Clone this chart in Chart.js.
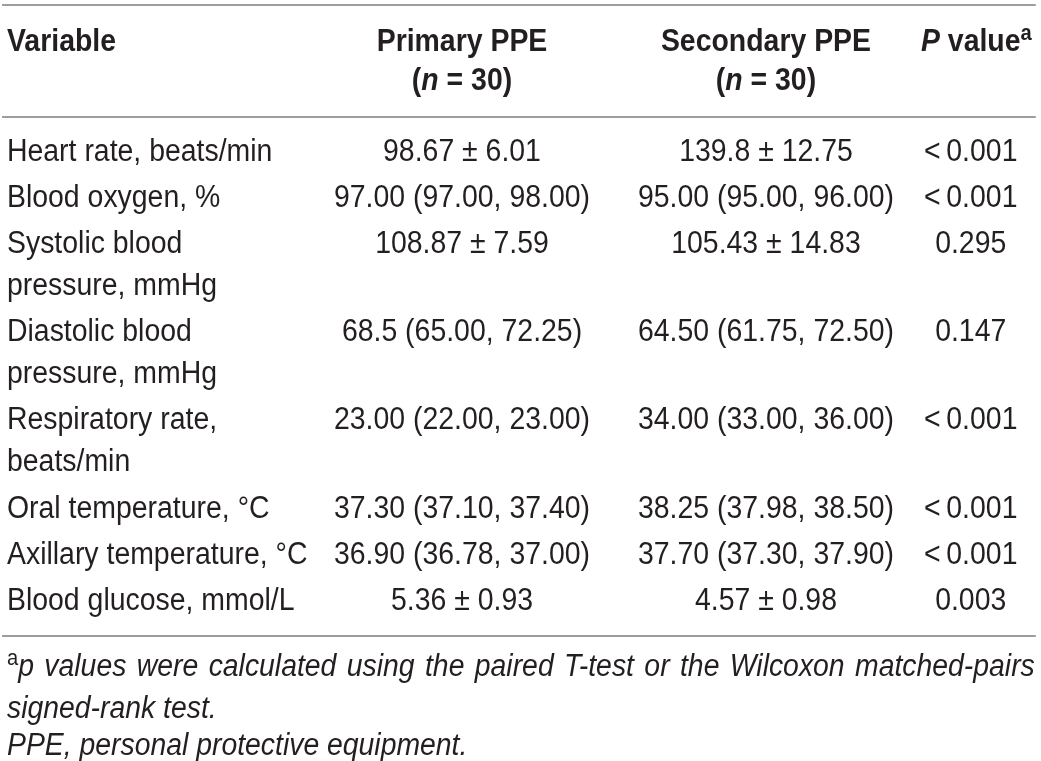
<!DOCTYPE html>
<html>
<head>
<meta charset="utf-8">
<script src="https://cdn.jsdelivr.net/npm/chart.js@4.4.1/dist/chart.umd.min.js"></script>
<style>
  html, body { margin: 0; padding: 0; background: #fff; }
  #wrap { width: 1041px; height: 761px; position: relative; }
</style>
</head>
<body>
<div id="wrap"><canvas id="tableChart"></canvas></div>
<script>
// table content (*..* = italic toggle, ^..^ = superscript)
const columnHeaders = ['Variable', 'Primary PPE\n(*n* = 30)', 'Secondary PPE\n(*n* = 30)', '*P* value^a^']
const variables = [
    'Heart rate, beats/min',
    'Blood oxygen, %',
    'Systolic blood\npressure, mmHg',
    'Diastolic blood\npressure, mmHg',
    'Respiratory rate,\nbeats/min',
    'Oral temperature, °C',
    'Axillary temperature, °C',
    'Blood glucose, mmol/L'
]
const primaryPPE = ['98.67 ± 6.01', '97.00 (97.00, 98.00)', '108.87 ± 7.59', '68.5 (65.00, 72.25)',
    '23.00 (22.00, 23.00)', '37.30 (37.10, 37.40)', '36.90 (36.78, 37.00)', '5.36 ± 0.93']
const secondaryPPE = ['139.8 ± 12.75', '95.00 (95.00, 96.00)', '105.43 ± 14.83', '64.50 (61.75, 72.50)',
    '34.00 (33.00, 36.00)', '38.25 (37.98, 38.50)', '37.70 (37.30, 37.90)', '4.57 ± 0.98']
const pValues = ['<\u20090.001', '<\u20090.001', '0.295', '0.147', '<\u20090.001', '<\u20090.001', '<\u20090.001', '0.003']
const footnotes = [
    '*^a^*p values were calculated using the paired T-test or the Wilcoxon matched-pairs',
    'signed-rank test.',
    'PPE, personal protective equipment.'
]

// layout (in line units on the y scale, fractions of width on the x scale)
const BODY_TOP_PX = 152
const LINE_PX = 42
const ROW_GAP = 0.1
const COL_X = [0.0067, 0.4438, 0.7358, 0.9325]
const COL_ALIGN = ['left', 'center', 'center', 'center']
const HEADER_Y = [-2.6, -1.69]
const RULE_Y = [-3.5, -0.83, 11.52]
const FOOT_Y = [12.28, 13.26, 14.16]
const FONT = '"Liberation Sans", Arial, sans-serif'
const SIZE = 31
const SX = 0.917
const INK = '#231f20'

const columns = [variables, primaryPPE, secondaryPPE, pValues]
const rowPos = []
let acc = 0
variables.forEach((v, r) => {
    rowPos.push(acc + r * ROW_GAP)
    acc += v.split('\n').length
})

function parse(str) {
    const segs = []
    let cur = '', it = false, sup = false
    for (const ch of str) {
        if (ch === '*' || ch === '^') {
            if (cur) segs.push({ t: cur, it, sup })
            cur = ''
            if (ch === '*') it = !it
            else sup = !sup
        } else cur += ch
    }
    if (cur) segs.push({ t: cur, it, sup })
    return segs
}

function fontFor(seg, o) {
    const size = seg.sup ? Math.round(o.size * 0.7) : o.size
    const italic = (seg.it !== !!o.italic) ? 'italic ' : ''
    return italic + (o.weight || 'normal') + ' ' + size + 'px ' + FONT
}

function drawRich(ctx, str, x, y, align, o) {
    const segs = parse(str)
    let total = 0, spaces = 0
    segs.forEach(s => {
        ctx.font = fontFor(s, o)
        s.w = ctx.measureText(s.t).width * o.sx
        if (!s.sup || align === 'left') total += s.w
        spaces += (s.t.match(/ /g) || []).length
    })
    const extra = o.justify && spaces ? Math.max(0, (o.justify - total) / spaces) : 0
    let cx = align === 'center' ? x - total / 2 : x
    ctx.fillStyle = o.color
    ctx.textBaseline = 'middle'
    ctx.textAlign = 'left'
    segs.forEach(s => {
        ctx.font = fontFor(s, o)
        const dy = s.sup ? -o.size * 0.3 : 0
        s.t.split(' ').forEach((w, i) => {
            if (i > 0) cx += ctx.measureText(' ').width * o.sx + extra
            ctx.save()
            ctx.translate(cx, y + dy)
            ctx.scale(o.sx, 1)
            ctx.fillText(w, 0, 0)
            ctx.restore()
            cx += ctx.measureText(w).width * o.sx
        })
    })
}

const tablePlugin = {
    id: 'tableCells',
    afterDatasetsDraw(chart) {
        const ctx = chart.ctx
        const xs = chart.scales.x, ys = chart.scales.y
        const body = { size: SIZE, sx: SX, color: INK }

        // rules
        ctx.save()
        ctx.strokeStyle = '#9d9d9d'
        ctx.lineWidth = 2
        RULE_Y.forEach(v => {
            const py = Math.round(ys.getPixelForValue(v))
            ctx.beginPath()
            ctx.moveTo(xs.getPixelForValue(0.002), py)
            ctx.lineTo(xs.getPixelForValue(0.995), py)
            ctx.stroke()
        })

        // header
        columnHeaders.forEach((h, c) => {
            h.split('\n').forEach((line, j) => {
                drawRich(ctx, line, xs.getPixelForValue(COL_X[c]), ys.getPixelForValue(HEADER_Y[j]),
                    COL_ALIGN[c], Object.assign({ weight: 'bold' }, body))
            })
        })

        // body cells, one point per cell
        chart.data.datasets.forEach((ds, c) => {
            chart.getDatasetMeta(c).data.forEach((pt, r) => {
                columns[c][r].split('\n').forEach((line, j) => {
                    const py = ys.getPixelForValue(ds.data[r].y + j)
                    drawRich(ctx, line, pt.x, py, COL_ALIGN[c], body)
                })
            })
        })

        // footnotes
        footnotes.forEach((f, i) => {
            drawRich(ctx, f, xs.getPixelForValue(COL_X[0]), ys.getPixelForValue(FOOT_Y[i]), 'left',
                { size: SIZE, sx: 0.915, color: INK, italic: true,
                  justify: i === 0 ? xs.getPixelForValue(0.994) - xs.getPixelForValue(COL_X[0]) : 0 })
        })
        ctx.restore()
    }
}

new Chart(document.getElementById('tableChart'), {
    type: 'scatter',
    data: {
        datasets: columns.map((col, c) => ({
            label: columnHeaders[c],
            data: col.map((t, r) => ({ x: COL_X[c], y: rowPos[r] })),
            pointRadius: 0,
            pointHoverRadius: 0
        }))
    },
    options: {
        responsive: true,
        maintainAspectRatio: false,
        animation: false,
        layout: { padding: 0 },
        plugins: { legend: { display: false }, tooltip: { enabled: false } },
        scales: {
            x: { type: 'linear', display: false, min: 0, max: 1 },
            y: { type: 'linear', display: false, reverse: true,
                 min: -BODY_TOP_PX / LINE_PX, max: (761 - BODY_TOP_PX) / LINE_PX }
        }
    },
    plugins: [tablePlugin]
});
</script>
</body>
</html>
